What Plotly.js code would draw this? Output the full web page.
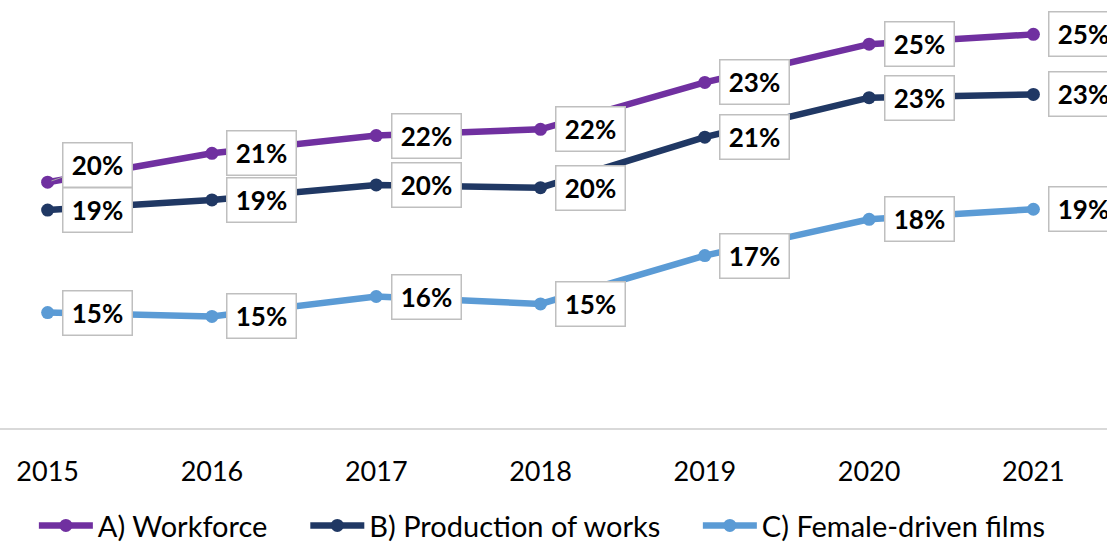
<!DOCTYPE html>
<html><head><meta charset="utf-8">
<script src="https://cdn.plot.ly/plotly-3.0.1.min.js"></script>
<style>html,body{margin:0;padding:0;overflow:hidden;background:#fff}#chart{width:1107px;height:544px}</style>
</head><body><div id="chart"></div>
<script>
const years = ['2015','2016','2017','2018','2019','2020','2021'];
const workforce = [19.82, 20.88, 21.53, 21.76, 23.48, 24.88, 25.24];
const production = [18.80, 19.17, 19.72, 19.62, 21.47, 22.92, 23.04];
const femaleDriven = [15.04, 14.90, 15.63, 15.36, 17.13, 18.46, 18.83];
const seriesNames = ['A) Workforce', 'B) Production of works', 'C) Female-driven films'];
const seriesValues = [workforce, production, femaleDriven];
const seriesColors = ['#7030A0', '#203864', '#5B9BD5'];

const FONT = 'Lato, "Liberation Sans", Arial, sans-serif';
const legendIds = ['legend', 'legend2', 'legend3'];
const legendX = [0.0306, 0.2758, 0.6304];

const traces = seriesValues.map((vals, s) => ({
  type: 'scatter', mode: 'lines+markers', name: seriesNames[s],
  x: years, y: vals, legend: legendIds[s],
  line: {color: seriesColors[s], width: 6.5},
  marker: {color: seriesColors[s], size: 13},
  hoverinfo: 'skip'
}));

const annotations = [];
seriesValues.forEach((vals, s) => {
  vals.forEach((v, i) => {
    const lifted = (s === 0 && i === 0);
    annotations.push({
      x: i, y: v, xref: 'x', yref: 'y',
      text: Math.round(v) + '%',
      showarrow: true, ax: 50, ay: lifted ? -17 : 0,
      arrowhead: 0, arrowwidth: 1,
      arrowcolor: lifted ? '#a6a6a6' : 'rgba(255,255,255,0)',
      standoff: 4,
      bgcolor: '#ffffff', bordercolor: '#bfbfbf', borderwidth: 1.5, borderpad: 0,
      width: 68, height: 43,
      font: {family: FONT, size: 26, color: '#000', weight: 700}
    });
  });
});

const layout = {
  width: 1107, height: 544,
  margin: {l: 0, r: 0, t: 0, b: 115.7, pad: 0, autoexpand: false},
  paper_bgcolor: '#fff', plot_bgcolor: '#fff',
  showlegend: true,
  xaxis: {
    type: 'category', range: [-0.29, 6.448],
    showgrid: false, zeroline: false, showline: true,
    linecolor: '#d9d9d9', linewidth: 1.5,
    ticks: '', ticklabelstandoff: 19,
    tickfont: {family: FONT, size: 27, color: '#000'}
  },
  yaxis: {
    range: [10.81, 26.5], showticklabels: false, showline: false, ticks: '', showgrid: false, zeroline: false
  },
  annotations: annotations
};
legendIds.forEach((id, s) => {
  layout[id] = {
    orientation: 'h', x: legendX[s], xanchor: 'left', y: -0.228, yanchor: 'middle',
    font: {family: FONT, size: 29, color: '#000'},
    itemwidth: 54, bgcolor: 'rgba(0,0,0,0)'
  };
});

Plotly.newPlot('chart', traces, layout, {staticPlot: true, displayModeBar: false});
</script>
</body></html>
